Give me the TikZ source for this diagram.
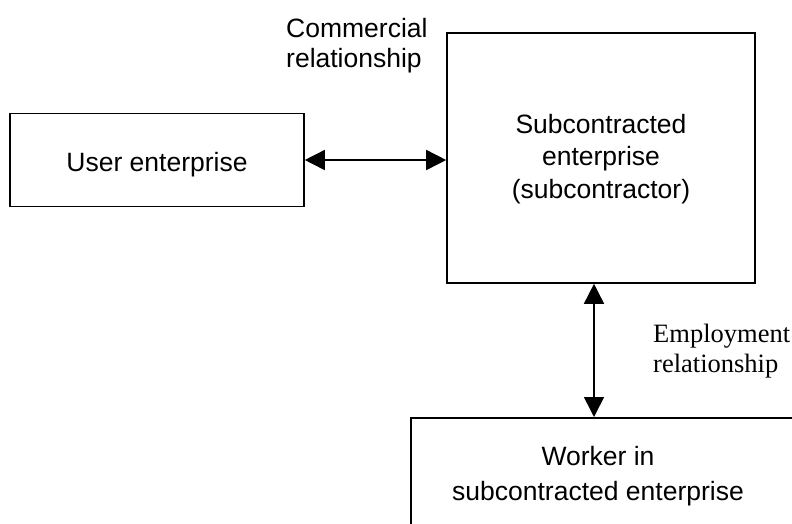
\documentclass[tikz,border=0pt]{standalone}
\usepackage{fontspec}
\setmainfont{Liberation Sans}
\newfontfamily\serifface{Liberation Serif}
\usetikzlibrary{arrows.meta}
\begin{document}
\begin{tikzpicture}[x=1pt,y=-1pt,
  box/.style={draw, line width=1.6pt, inner sep=0pt},
  arr/.style={{Triangle[length=20pt,width=20pt]}-{Triangle[length=20pt,width=20pt]}, line width=1.6pt},
  lbl/.style={inner sep=0pt, font=\fontsize{26.5}{32.5}\selectfont}]
\useasboundingbox (0,0) rectangle (792,523);
\fill[white] (0,0) rectangle (792,523);
\clip (0,0) rectangle (792,523);

% boxes
\node[box, minimum width=294pt, minimum height=93pt] (user) at (157,160) {};
\node[box, minimum width=308pt, minimum height=250pt] (sub) at (601,158) {};
\node[box, minimum width=420pt, minimum height=160pt, anchor=north west] (worker) at (410,417) {};

% box texts (anchor base sits on the last line)
\node[lbl, anchor=base] (usertext) at (157,171) {User enterprise};
\node[lbl, anchor=base, align=center] (subtext) at (601,198) {Subcontracted\\enterprise\\(subcontractor)};
\node[lbl, anchor=base, align=center, font=\fontsize{26.5}{35}\selectfont] (wtext) at (598,500) {Worker in\\subcontracted enterprise};

% relationship labels
\node[lbl, anchor=base west, align=left, font=\fontsize{26.5}{30}\selectfont] (comm) at (286,67) {Commercial\\relationship};
\node[lbl, anchor=base west, align=left, font=\serifface\fontsize{26.5}{30}\selectfont] (emp) at (653,372) {Employment\\relationship};

% connectors
\coordinate (vx) at (594,0);
\draw[arr] (user.east) -- (sub.west |- user.east);
\draw[arr] (sub.south -| vx) -- (worker.north -| vx);
\end{tikzpicture}
\end{document}
